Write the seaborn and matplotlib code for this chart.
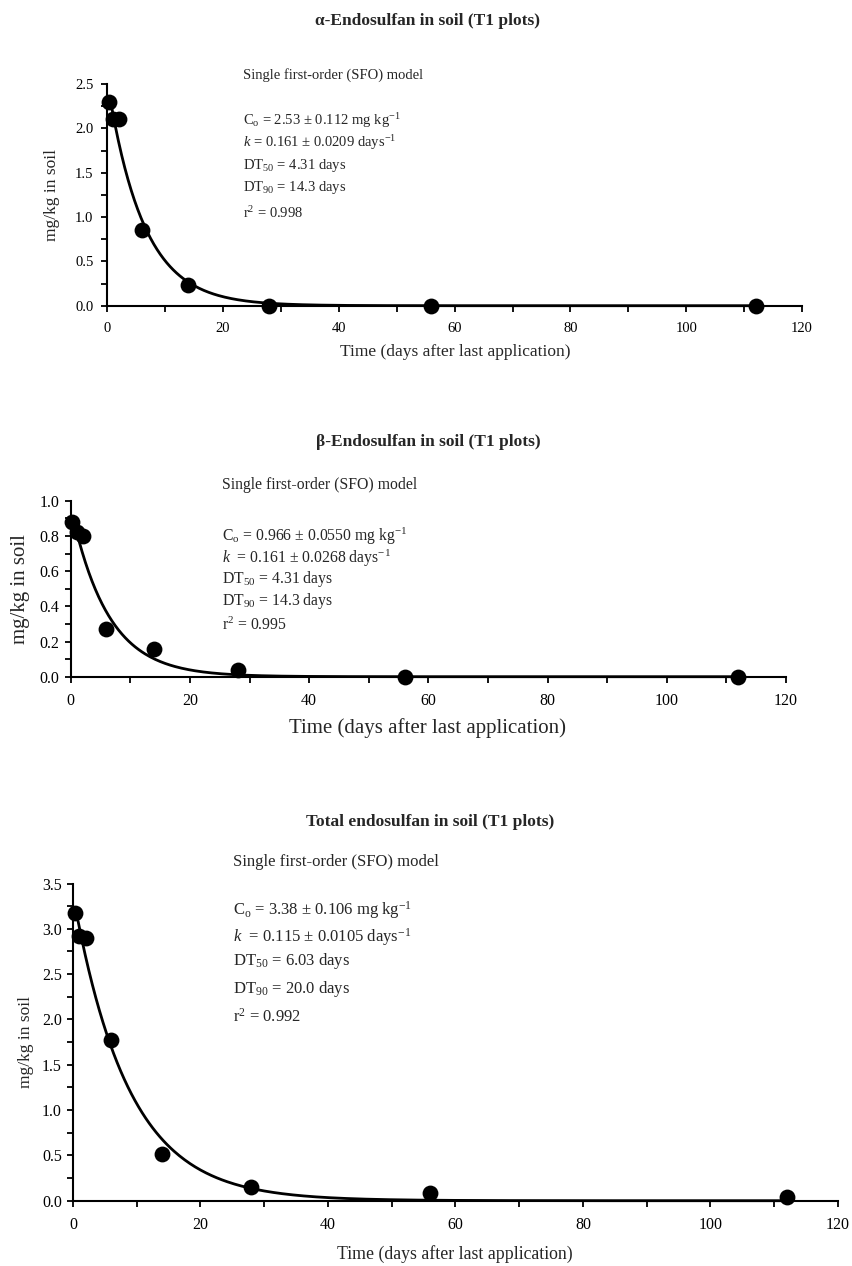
import numpy as np
import pandas as pd
import matplotlib
matplotlib.use("Agg")
import matplotlib.pyplot as plt
from matplotlib.ticker import MultipleLocator, FormatStrFormatter
import seaborn as sns

# ---------------- data ----------------
days = [0.25, 1, 2, 6, 14, 28, 56, 112]
alpha_conc = [2.30, 2.11, 2.11, 0.85, 0.23, 0.0, 0.0, 0.0]
beta_conc = [0.88, 0.82, 0.80, 0.27, 0.16, 0.04, 0.0, 0.0]
total_conc = [3.18, 2.92, 2.90, 1.77, 0.51, 0.15, 0.08, 0.04]

# SFO model parameters (printed on the chart)
model_c0 = [2.53, 0.966, 3.38]
model_k = [0.161, 0.161, 0.115]

titles = ["α-Endosulfan in soil (T1 plots)",
          "β-Endosulfan in soil (T1 plots)",
          "Total endosulfan in soil (T1 plots)"]
annotations = [
    [r"C$_\mathrm{o}$ = 2.53 ± 0.112 mg kg$^{\mathrm{-1}}$",
     r"$\mathit{k}$ = 0.161 ± 0.0209 days$^{\mathrm{-1}}$",
     r"DT$_{\mathrm{50}}$ = 4.31 days",
     r"DT$_{\mathrm{90}}$ = 14.3 days",
     r"r$^{\mathrm{2}}$ = 0.998"],
    [r"C$_\mathrm{o}$ = 0.966 ± 0.0550 mg kg$^{\mathrm{-1}}$",
     r"$\mathit{k}$  = 0.161 ± 0.0268 days$^{\mathrm{-1}}$",
     r"DT$_{\mathrm{50}}$ = 4.31 days",
     r"DT$_{\mathrm{90}}$ = 14.3 days",
     r"r$^{\mathrm{2}}$ = 0.995"],
    [r"C$_\mathrm{o}$ = 3.38 ± 0.106 mg kg$^{\mathrm{-1}}$",
     r"$\mathit{k}$  = 0.115 ± 0.0105 days$^{\mathrm{-1}}$",
     r"DT$_{\mathrm{50}}$ = 6.03 days",
     r"DT$_{\mathrm{90}}$ = 20.0 days",
     r"r$^{\mathrm{2}}$ = 0.992"],
]
model_label = "Single first-order (SFO) model"
xlabel = "Time (days after last application)"
ylabel = "mg/kg in soil"

# ---------------- style ----------------
sns.set_style("ticks")
plt.rcParams["font.family"] = ["Liberation Serif", "DejaVu Serif"]
plt.rcParams["mathtext.fontset"] = "custom"
plt.rcParams["mathtext.rm"] = "Liberation Serif"
plt.rcParams["mathtext.it"] = "Liberation Serif:italic"
plt.rcParams["mathtext.bf"] = "Liberation Serif:bold"

W, H = 853, 1266
fig = plt.figure(figsize=(W / 100, H / 100), dpi=100)

def ax_rect(x0, x1, y_top, y_bot):
    return [x0 / W, 1 - y_bot / H, (x1 - x0) / W, (y_bot - y_top) / H]

panels = [
    dict(rect=ax_rect(107.3, 802, 84, 305.7), data=alpha_conc, ymax=2.5,
         ymaj=0.5, ymin=0.25, title_y=21, title_x=428, xl_y=352, xl_x=455,
         xl_fs=12.5, yl_x=52, yl_fs=12.5, ann_x=243,
         ann_y=[75, 121, 143, 166, 188, 213], fs=10.5, tfs=10.5, ypad=6),
    dict(rect=ax_rect(70.7, 786, 500.7, 676.7), data=beta_conc, ymax=1.0,
         ymaj=0.2, ymin=0.1, title_y=442, title_x=428, xl_y=728, xl_x=428,
         xl_fs=15, yl_x=21, yl_fs=15, ann_x=222,
         ann_y=[485, 536, 558, 579, 601, 625], fs=11.3, tfs=11.5, ypad=4),
    dict(rect=ax_rect(73, 838, 883.5, 1200.7), data=total_conc, ymax=3.5,
         ymaj=0.5, ymin=0.25, title_y=822, title_x=430, xl_y=1254, xl_x=454.5,
         xl_fs=12.8, yl_x=26, yl_fs=12.5, ann_x=233,
         ann_y=[862, 910, 937, 961, 989, 1017], fs=12, tfs=11.5, ypad=4),
]

for i, p in enumerate(panels):
    ax = fig.add_axes(p["rect"])
    df = pd.DataFrame({"t": days, "c": p["data"]})
    t_fit = np.linspace(0.8, 112, 400)
    fit = pd.DataFrame({"t": t_fit, "c": model_c0[i] * np.exp(-model_k[i] * t_fit)})
    sns.lineplot(data=fit, x="t", y="c", ax=ax, color="black", lw=2.0,
                 zorder=3, clip_on=False)
    sns.scatterplot(data=df, x="t", y="c", ax=ax, color="black", s=130,
                    edgecolor="black", linewidth=0, zorder=4, clip_on=False)
    ax.set_xlim(0, 120)
    ax.set_ylim(0, p["ymax"])
    ax.xaxis.set_major_locator(MultipleLocator(20))
    ax.xaxis.set_minor_locator(MultipleLocator(10))
    ax.yaxis.set_major_locator(MultipleLocator(p["ymaj"]))
    ax.yaxis.set_minor_locator(MultipleLocator(p["ymin"]))
    ax.yaxis.set_major_formatter(FormatStrFormatter("%.1f"))
    for s in ["top", "right"]:
        ax.spines[s].set_visible(False)
    for s in ["left", "bottom"]:
        ax.spines[s].set_linewidth(1.5)
        ax.spines[s].set_color("black")
    ax.tick_params(axis="both", which="both", direction="out", color="black",
                   width=1.3, labelsize=p["tfs"], labelcolor="black")
    ax.tick_params(axis="both", which="major", length=4)
    ax.tick_params(axis="both", which="minor", length=4)
    ax.tick_params(axis="x", pad=8)
    ax.tick_params(axis="y", pad=p["ypad"])
    ax.set_xlabel("")
    ax.set_ylabel("")
    fig.text(p["title_x"] / W, 1 - p["title_y"] / H, titles[i], ha="center",
             va="center", fontsize=12.5, fontweight="bold")
    fig.text(p["xl_x"] / W, 1 - p["xl_y"] / H, xlabel, ha="center",
             va="center", fontsize=p["xl_fs"])
    y_mid = (p["rect"][1] + p["rect"][3] / 2)
    fig.text(p["yl_x"] / W, y_mid, ylabel, ha="center", va="center",
             rotation=90, fontsize=p["yl_fs"])
    fig.text(p["ann_x"] / W, 1 - p["ann_y"][0] / H, model_label, ha="left",
             va="center", fontsize=p["fs"])
    for j, line in enumerate(annotations[i]):
        fig.text(p["ann_x"] / W, 1 - p["ann_y"][j + 1] / H, line, ha="left",
                 va="center", fontsize=p["fs"])

fig.savefig("out.png", dpi=100)
